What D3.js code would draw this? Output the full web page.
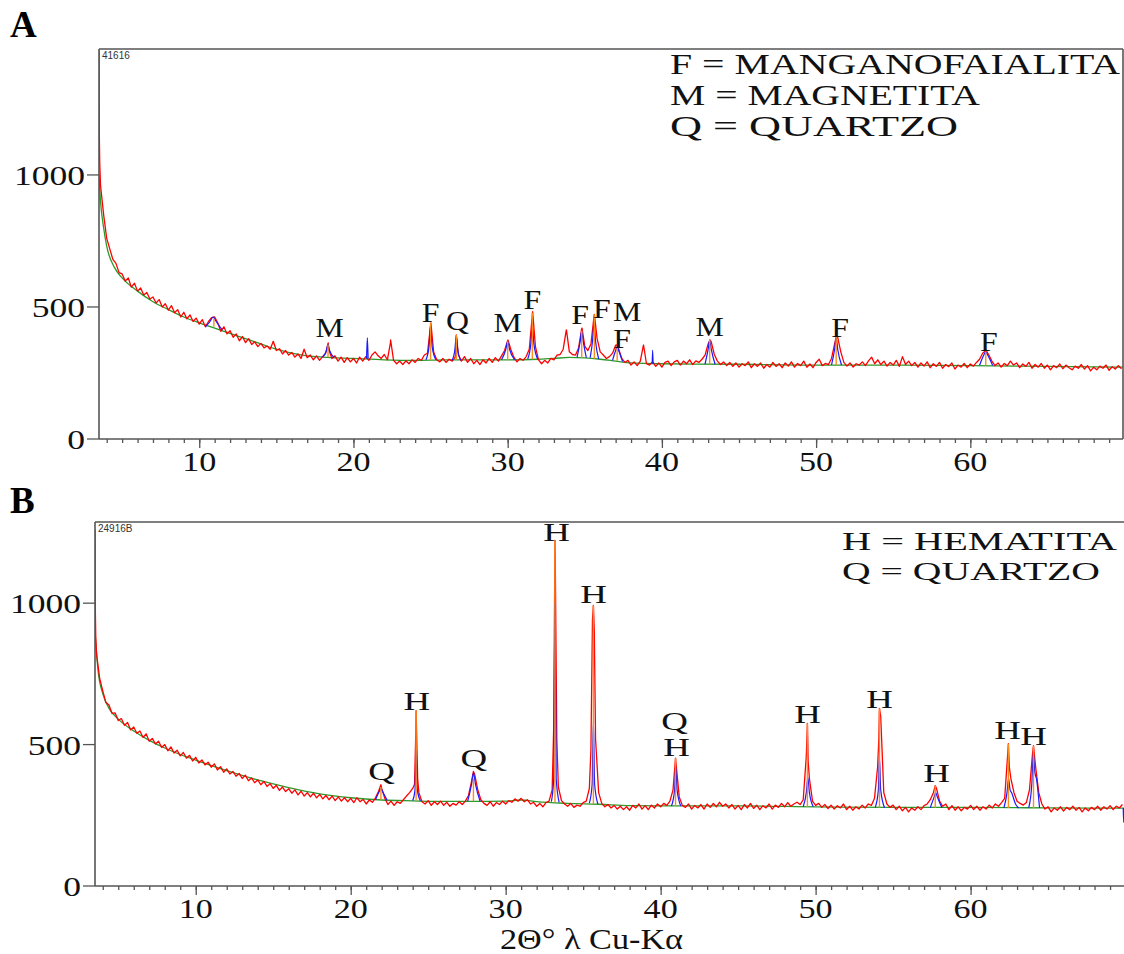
<!DOCTYPE html>
<html><head><meta charset="utf-8">
<script src="https://cdn.jsdelivr.net/npm/d3@7"></script>
<style>body{margin:0;background:#fff}</style>
</head><body>
<svg id="c" width="1124" height="954"></svg>
<script>
// ---------- shared ----------
const xTickValues = [10, 20, 30, 40, 50, 60];
const xMinorTicks = d3.range(4, 70);
const yTickValues = [0, 500, 1000];
const xStart = 3.6, xStep = 0.2;
const axisTitle = "2\u0398\u00B0 \u03BB Cu-K\u03B1";

// ---------- panel A ----------
const redA = [
960,850,760,720,680,665,630,625,598,610,
575,590,560,572,545,555,530,538,515,528,
500,512,488,505,478,490,462,480,455,470,
445,458,435,452,425,445,460,462,440,408,
425,398,410,385,398,372,388,365,380,358,
368,350,362,345,352,340,370,335,342,322,
335,318,328,310,322,305,340,308,318,300,
315,298,312,325,340,305,315,295,310,290,
308,292,305,288,310,295,312,298,318,330,
315,305,320,300,365,298,285,295,282,296,
285,300,290,305,298,318,325,430,330,300,
292,305,290,302,295,310,320,295,312,290,
305,285,298,282,300,288,305,290,308,295,
315,335,372,340,310,292,305,298,312,340,
470,350,300,285,298,288,305,300,318,320,
340,412,330,320,318,345,418,352,335,360,
465,380,330,318,305,312,325,355,340,305,
290,298,280,292,278,295,355,285,280,292,
275,288,272,290,295,278,292,298,280,295,
285,300,282,296,290,302,318,360,368,320,
295,282,292,278,290,275,288,272,285,278,
292,270,285,275,288,268,282,272,290,275,
285,270,288,276,292,272,286,278,295,272,
284,270,290,302,278,286,282,305,360,385,
330,290,276,288,272,285,280,292,278,296,
310,285,300,282,295,276,290,280,298,275,
312,282,295,278,290,272,288,276,292,270,
285,275,290,268,282,274,288,265,280,272,
286,270,284,276,290,302,325,335,318,295,
278,288,272,286,278,295,280,288,270,284,
275,290,268,282,272,286,268,280,262,278,
270,284,266,280,270,262,276,268,282,265,
278,258,272,262,276,268,280,260,274,265,
278,266];
const redAExtra = [[3.5,1470],[3.52,1150],[3.55,1040],[18.36,364],[22.41,375],[25.02,440],[26.67,394],[30.02,375],[31.62,482],[33.81,413],[34.82,420],[35.62,472],[37.11,356],[38.81,356],[43.12,375],[51.32,390],[61.02,337]];
const bgA = [[3.5,1000],[3.6,900],[3.8,800],[4.0,730],[4.5,650],[5,610],[6,560],[7,520],[8,490],[9,462],[10,440],[11,420],[12,400],[13,380],[14,360],[15,340],[16,325],[17,315],[18,310],[20,305],[22,300],[24,298],[26,300],[28,300],[30,300],[32,302],[33,305],[34,309],[35,307],[36,302],[37,295],[38,288],[40,285],[45,283],[50,280],[55,280],[60,278],[65,275],[69.9,272]];
const blueA = [
 [[10.4,425],[10.7,445],[10.9,462],[11.1,445],[11.5,412]],
 [[18.0,310],[18.25,335],[18.35,358],[18.45,335],[18.75,308]],
 [[20.85,305],[20.9,383],[20.95,305]],
 [[24.7,300],[24.9,350],[25.0,430],[25.1,350],[25.35,300]],
 [[26.4,298],[26.58,340],[26.67,392],[26.76,340],[26.95,298]],
 [[29.6,300],[29.88,340],[30.0,370],[30.12,340],[30.45,300]],
 [[31.3,303],[31.5,360],[31.6,430],[31.7,360],[31.95,302]],
 [[34.5,310],[34.7,370],[34.8,410],[34.9,370],[35.1,308]],
 [[35.35,308],[35.5,370],[35.6,440],[35.7,370],[35.9,303]],
 [[36.8,298],[37.0,335],[37.1,350],[37.2,335],[37.45,293]],
 [[39.37,285],[39.4,337],[39.43,285]],
 [[42.8,284],[43.0,340],[43.1,375],[43.2,340],[43.45,283]],
 [[51.0,281],[51.2,340],[51.3,385],[51.4,340],[51.65,280]],
 [[60.6,279],[60.85,315],[61.0,330],[61.15,315],[61.45,278]]
];
const sticksA = [[10.95,425,455],[18.35,310,358],[25.0,300,440],[26.67,300,394],[30.0,300,370],[31.6,302,478],[34.8,308,410],[35.62,304,472],[37.1,296,350],[43.1,283,375],[51.3,280,390],[61.0,278,330]];
const labelsA = [["M",18.45,386],["F",25.0,443],["Q",26.75,413],["M",30.0,405],["F",31.6,492],["F",34.7,436],["F",36.1,458],["M",37.75,446],["F",37.42,344],["M",43.1,390],["F",51.55,386],["F",61.2,333]];
const legendA = ["F = MANGANOFAIALITA","M = MAGNETITA","Q = QUARTZO"];

// ---------- panel B ----------
const redB = [
820,735,690,650,640,610,612,585,592,568,
578,552,562,540,548,525,538,512,522,502,
512,490,500,478,492,470,480,460,472,452,
462,442,455,435,446,428,438,420,432,410,
422,402,414,396,405,388,398,380,392,372,
382,365,375,358,370,352,362,345,356,338,
350,334,344,328,340,322,335,318,330,315,
328,312,324,308,320,305,318,302,315,300,
312,298,310,295,312,298,306,290,304,296,
312,335,345,310,288,300,285,298,292,305,
318,330,345,540,330,298,290,302,285,298,
288,300,285,296,282,292,286,298,288,300,
320,370,395,340,305,292,285,298,282,295,
288,300,290,302,296,308,300,310,298,305,
290,296,282,292,280,295,300,340,1150,350,
302,290,282,292,278,286,282,295,300,345,
940,520,330,292,280,288,276,285,272,282,
270,280,268,285,276,290,272,284,270,286,
276,290,280,292,285,300,340,430,315,285,
278,290,272,285,276,288,272,290,278,292,
280,296,282,290,276,288,272,285,270,288,
276,292,274,286,270,284,276,290,272,286,
278,292,280,295,282,290,296,288,305,460,
380,300,285,292,278,288,274,286,272,284,
276,290,270,282,268,280,272,286,276,290,
285,310,420,600,330,290,278,286,270,282,
266,278,262,276,268,280,270,284,290,305,
330,345,300,282,290,270,284,268,280,266,
278,272,285,270,282,268,280,272,286,276,
290,282,295,310,470,380,330,300,292,286,
295,340,470,420,330,290,272,280,262,276,
268,280,265,278,270,282,268,278,262,276,
266,278,270,282,268,280,272,284,270,282,
276,288];
const redBExtra = [[3.5,1260],[3.52,980],[3.55,880],[21.95,358],[24.12,360],[24.22,620],[24.32,380],[27.92,405],[33.1,560],[33.18,1222],[33.3,520],[35.5,480],[35.66,992],[35.72,900],[40.96,452],[49.47,575],[49.52,440],[54.08,520],[54.12,628],[57.72,355],[62.44,503],[62.5,420],[64.06,496]];
const bgB = [[3.5,900],[3.7,760],[4,680],[4.5,620],[5,590],[6,548],[7,515],[8,488],[9,465],[10,445],[12,408],[14,375],[16,348],[18,326],[20,312],[22,304],[24,301],[26,299],[28,299],[30,300],[31,304],[32,298],[34,292],[36,289],[38,284],[40,283],[45,283],[50,280],[55,278],[60,278],[65,276],[69.9,275]];
const blueB = [
 [[21.6,305],[21.85,335],[21.95,345],[22.05,335],[22.35,303]],
 [[24.0,302],[24.15,340],[24.22,480],[24.3,340],[24.5,301]],
 [[27.55,300],[27.8,360],[27.92,400],[28.05,360],[28.35,299]],
 [[32.95,298],[33.1,380],[33.18,1000],[33.26,380],[33.45,296]],
 [[35.4,293],[35.58,360],[35.66,580],[35.74,360],[35.95,290]],
 [[40.7,283],[40.9,340],[40.98,420],[41.06,340],[41.3,283]],
 [[49.2,280],[49.4,330],[49.5,383],[49.6,330],[49.85,280]],
 [[53.85,278],[54.05,340],[54.12,455],[54.2,340],[54.45,277]],
 [[57.4,277],[57.65,315],[57.75,330],[57.85,315],[58.15,277]],
 [[62.15,276],[62.35,330],[62.45,380],[62.55,340],[62.65,330],[62.9,290],[63.1,276]],
 [[63.75,276],[63.95,360],[64.05,470],[64.15,400],[64.25,380],[64.45,276]],
 [[69.85,276],[69.88,225],[69.9,276]]
];
const sticksB = [[21.95,305,350],[24.22,302,620],[27.92,300,380],[33.18,296,1222],[35.66,290,992],[40.96,283,452],[49.47,280,575],[54.12,277,628],[57.72,277,355],[62.44,276,503],[64.06,276,496]];
const labelsB = [["Q",22.0,376],["H",24.26,624],["Q",27.94,422],["H",33.29,1220],["H",35.68,1000],["Q",40.9,553],["H",41.03,461],["H",49.48,578],["H",54.13,631],["H",57.8,369],["H",62.39,518],["H",64.06,500]];
const legendB = ["H = HEMATITA","Q = QUARTZO"];

// ---------- drawing ----------
const svg = d3.select('#c');
const SERIF = "'Liberation Serif','Times New Roman',serif";
function stext(parent, x, y, str, size, sx, anchor, weight) {
  return parent.append('text')
    .attr('transform', `translate(${x},${y}) scale(${sx},1)`)
    .attr('text-anchor', anchor || 'middle')
    .style('font-family', SERIF).style('font-size', size + 'px')
    .style('font-weight', weight || 'normal').style('fill', '#111')
    .text(str);
}

function panel(cfg) {
  const x = d3.scaleLinear().domain([3.5, 69.9]).range([cfg.left, cfg.right]);
  const y = d3.scaleLinear().domain([0, cfg.yMax]).range([cfg.bottom, cfg.top]);
  const g = svg.append('g');
  const clipId = 'clip' + cfg.id;
  svg.append('clipPath').attr('id', clipId).append('rect')
    .attr('x', cfg.left).attr('y', cfg.top)
    .attr('width', cfg.right - cfg.left).attr('height', cfg.bottom - cfg.top);
  const plot = g.append('g').attr('clip-path', `url(#${clipId})`);

  const smooth = d3.line().x(d => x(d[0])).y(d => y(d[1])).curve(d3.curveMonotoneX);
  const straight = d3.line().x(d => x(d[0])).y(d => y(d[1]));

  plot.append('path').datum(cfg.bg).attr('d', smooth)
    .attr('fill', 'none').attr('stroke', '#2a9a2a').attr('stroke-width', 1.3);

  const red = cfg.red.map((v, i) => [+(xStart + i * xStep).toFixed(2), v])
    .concat(cfg.extra).sort((a, b) => a[0] - b[0]);
  plot.append('path').datum(red).attr('d', straight)
    .attr('fill', 'none').attr('stroke', '#ff0000').attr('stroke-width', 1.3)
    .attr('stroke-linejoin', 'round');

  plot.selectAll('path.blue').data(cfg.blue).enter().append('path')
    .attr('class', 'blue').attr('d', smooth)
    .attr('fill', 'none').attr('stroke', '#1a1aff').attr('stroke-width', 1.2);

  plot.selectAll('line.stick').data(cfg.sticks).enter().append('line')
    .attr('class', 'stick')
    .attr('x1', d => x(d[0])).attr('x2', d => x(d[0]))
    .attr('y1', d => y(d[1])).attr('y2', d => y(d[2]))
    .attr('stroke', '#ff8c1a').attr('stroke-width', 1.4);

  // frame
  const fc = '#555';
  g.append('line').attr('x1', cfg.left).attr('x2', cfg.left).attr('y1', cfg.top).attr('y2', cfg.bottom).attr('stroke', fc).attr('stroke-width', 1.6);
  g.append('line').attr('x1', cfg.left).attr('x2', cfg.right).attr('y1', cfg.top).attr('y2', cfg.top).attr('stroke', fc).attr('stroke-width', 1.6);
  g.append('line').attr('x1', cfg.left).attr('x2', cfg.right).attr('y1', cfg.bottom).attr('y2', cfg.bottom).attr('stroke', fc).attr('stroke-width', 1.6);
  if (cfg.rightLine) g.append('line').attr('x1', cfg.right).attr('x2', cfg.right).attr('y1', cfg.top).attr('y2', cfg.bottom).attr('stroke', fc).attr('stroke-width', 1.6);

  // x axis ticks
  const minor = g.append('g').attr('transform', `translate(0,${cfg.bottom})`)
    .call(d3.axisBottom(x).tickValues(xMinorTicks).tickSize(4).tickFormat(''));
  const major = g.append('g').attr('transform', `translate(0,${cfg.bottom})`)
    .call(d3.axisBottom(x).tickValues(xTickValues).tickSize(9).tickFormat(''));
  [minor, major].forEach(a => { a.select('.domain').remove(); a.selectAll('line').attr('stroke', fc).attr('stroke-width', 1.3); });
  xTickValues.forEach(t => stext(g, x(t), cfg.bottom + 32, String(t), 28, 1.22, 'middle'));

  // y axis ticks
  yTickValues.forEach(t => {
    g.append('line').attr('x1', cfg.left - 12).attr('x2', cfg.left).attr('y1', y(t)).attr('y2', y(t))
      .attr('stroke', fc).attr('stroke-width', 1.3);
    stext(g, cfg.left - 14, y(t) + 10, String(t), 28, 1.27, 'end');
  });

  // peak labels
  cfg.labels.forEach(l => stext(g, x(l[1]), y(l[2]), l[0], cfg.labelSize, cfg.labelSx, 'middle'));

  // legend
  cfg.legend.forEach((s, i) => {
    g.append('text').attr('x', cfg.legendX).attr('y', cfg.legendY[i])
      .attr('textLength', cfg.legendW[i]).attr('lengthAdjust', 'spacingAndGlyphs')
      .style('font-family', SERIF).style('font-size', cfg.legendSize + 'px').style('fill', '#111')
      .text(s);
  });

  // sample id
  g.append('text').attr('x', cfg.left + 3).attr('y', cfg.top + 10)
    .style('font-family', "'Liberation Sans',Arial,sans-serif").style('font-size', '10px').style('fill', '#333')
    .text(cfg.sample);

  // panel letter
  g.append('text').attr('x', 10).attr('y', cfg.letterY)
    .style('font-family', SERIF).style('font-size', '37px').style('font-weight', 'bold').style('fill', '#000')
    .text(cfg.letter);
}

panel({id: 'A', left: 99, right: 1123, top: 49, bottom: 439, yMax: 1477, rightLine: true,
  red: redA, extra: redAExtra, bg: bgA, blue: blueA, sticks: sticksA, labels: labelsA,
  labelSize: 27, labelSx: 1.18,
  legend: legendA, legendX: 670, legendY: [74, 105, 136], legendW: [450, 310, 288], legendSize: 29,
  sample: '41616', letter: 'A', letterY: 37});

panel({id: 'B', left: 95, right: 1124, top: 522, bottom: 886, yMax: 1287, rightLine: false,
  red: redB, extra: redBExtra, bg: bgB, blue: blueB, sticks: sticksB, labels: labelsB,
  labelSize: 26, labelSx: 1.42,
  legend: legendB, legendX: 842, legendY: [550, 580], legendW: [275, 258], legendSize: 26,
  sample: '24916B', letter: 'B', letterY: 513});

svg.append('text').attr('x', 500).attr('y', 949)
  .attr('textLength', 183).attr('lengthAdjust', 'spacingAndGlyphs')
  .style('font-family', SERIF).style('font-size', '30px').style('fill', '#111')
  .text(axisTitle);
</script>
</body></html>
